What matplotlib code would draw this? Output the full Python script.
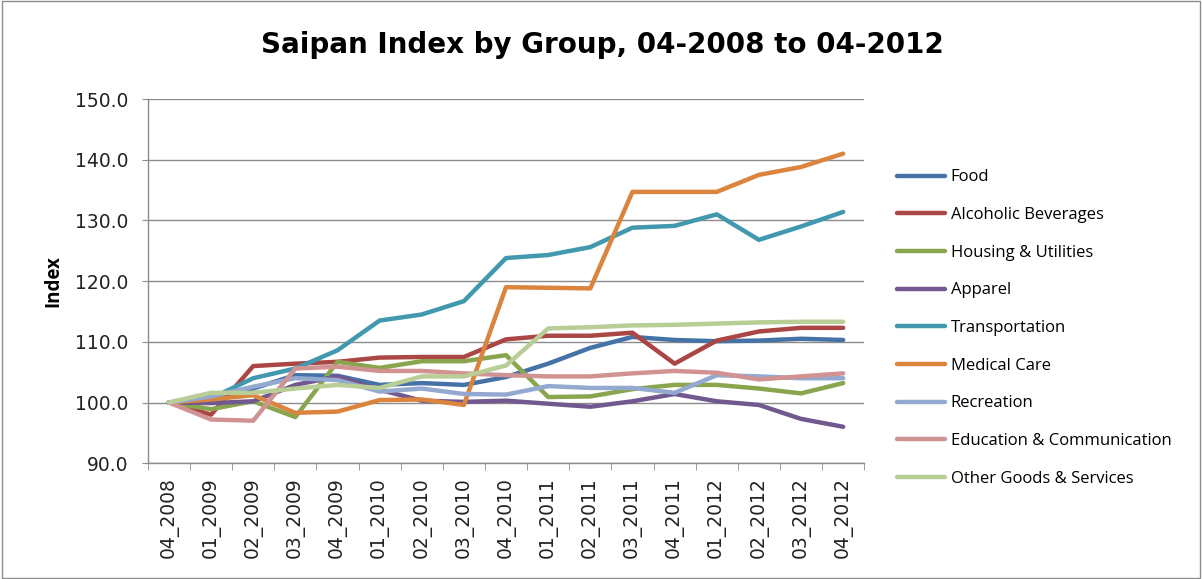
import matplotlib
matplotlib.use("Agg")
import matplotlib.pyplot as plt
import numpy as np

periods = ["04_2008", "01_2009", "02_2009", "03_2009", "04_2009", "01_2010", "02_2010",
           "03_2010", "04_2010", "01_2011", "02_2011", "03_2011", "04_2011", "01_2012",
           "02_2012", "03_2012", "04_2012"]

food = [100.0, 100.7, 102.3, 104.5, 104.4, 102.9, 103.2, 102.9, 104.2, 106.4, 109.0, 110.8, 110.3, 110.1, 110.2, 110.5, 110.3]
alcohol = [100.0, 98.0, 106.0, 106.4, 106.7, 107.4, 107.5, 107.5, 110.4, 111.0, 111.0, 111.5, 106.4, 110.2, 111.7, 112.3, 112.3]
housing = [100.0, 98.9, 100.2, 97.6, 106.7, 105.7, 106.8, 106.8, 107.8, 100.9, 101.0, 102.2, 102.9, 102.9, 102.3, 101.5, 103.2]
apparel = [100.0, 99.9, 100.2, 102.9, 104.3, 102.1, 100.3, 100.1, 100.3, 99.8, 99.3, 100.2, 101.4, 100.2, 99.6, 97.3, 96.0]
transport = [100.0, 100.7, 104.0, 105.6, 108.6, 113.5, 114.5, 116.7, 123.8, 124.3, 125.6, 128.8, 129.1, 131.0, 126.8, 129.0, 131.4]
medical = [100.0, 100.5, 101.2, 98.3, 98.5, 100.4, 100.5, 99.6, 119.0, 118.9, 118.8, 134.7, 134.7, 134.7, 137.5, 138.8, 141.0]
recreation = [100.0, 101.0, 102.6, 104.0, 103.7, 101.8, 102.3, 101.4, 101.3, 102.7, 102.4, 102.4, 101.6, 104.5, 104.3, 104.0, 104.0]
education = [100.0, 97.2, 97.0, 105.6, 105.9, 105.2, 105.2, 104.8, 104.5, 104.3, 104.3, 104.8, 105.2, 104.9, 103.8, 104.3, 104.8]
other = [100.0, 101.6, 101.6, 102.3, 102.9, 102.4, 104.3, 104.3, 106.1, 112.2, 112.4, 112.7, 112.8, 113.0, 113.2, 113.3, 113.3]

series_names = ["Food", "Alcoholic Beverages", "Housing & Utilities", "Apparel", "Transportation",
                "Medical Care", "Recreation", "Education & Communication", "Other Goods & Services"]
series_values = [food, alcohol, housing, apparel, transport, medical, recreation, education, other]
colors = ["#4572A7", "#AA4643", "#89A54E", "#71588F", "#4198AF", "#DB843D", "#93A9CF", "#D19392", "#B9CD96"]

yticks = [90, 100, 110, 120, 130, 140, 150]

fig = plt.figure(figsize=(12.02, 5.79), dpi=100)
ax = fig.add_axes([0.123, 0.2, 0.596, 0.629])

x = np.arange(len(periods))
for name, vals, c in zip(series_names, series_values, colors):
    ax.plot(x, vals, color=c, lw=3.2, label=name, solid_capstyle="round", solid_joinstyle="round")

ax.set_xlim(-0.5, len(periods) - 0.5)
ax.set_ylim(90, 150)
ax.set_yticks(yticks)
ax.set_yticklabels([f"{v:.1f}" for v in yticks], fontsize=13.5, family="DejaVu Sans", color="#222222")
ax.yaxis.grid(True, color="#8C8C8C", lw=1.0)
ax.set_axisbelow(True)

ax.set_xticks(x)
ax.set_xticklabels(periods, rotation=90, fontsize=13.5, family="DejaVu Sans", color="#222222")
ax.set_xticks(np.arange(-0.5, len(periods)), minor=True)
ax.tick_params(axis="x", which="major", length=0, pad=10)
ax.tick_params(axis="x", which="minor", length=5, color="#8C8C8C")
ax.tick_params(axis="y", length=4, color="#8C8C8C", pad=10)

for side in ["top", "right"]:
    ax.spines[side].set_visible(False)
for side in ["left", "bottom"]:
    ax.spines[side].set_color("#8C8C8C")
    ax.spines[side].set_linewidth(1.0)

ax.set_ylabel("Index", fontsize=13.5, fontweight="bold", family="Open Sans", labelpad=8)

fig.text(0.501, 0.922, "Saipan Index by Group, 04-2008 to 04-2012", ha="center", va="center",
         fontsize=20, fontweight="bold", family="DejaVu Sans")

leg = ax.legend(loc="center left", bbox_to_anchor=(0.746, 0.4335), bbox_transform=fig.transFigure,
                frameon=False, prop={"family": "Open Sans", "size": 12},
                handlelength=2.9, handletextpad=0.35, labelspacing=1.3,
                borderpad=0, borderaxespad=0)

border = plt.Rectangle((0.002, 0.002), 0.996, 0.996, transform=fig.transFigure, fill=False,
                       edgecolor="#8C8C8C", lw=1.0)
fig.patches.append(border)

fig.savefig("out.png", dpi=100)
